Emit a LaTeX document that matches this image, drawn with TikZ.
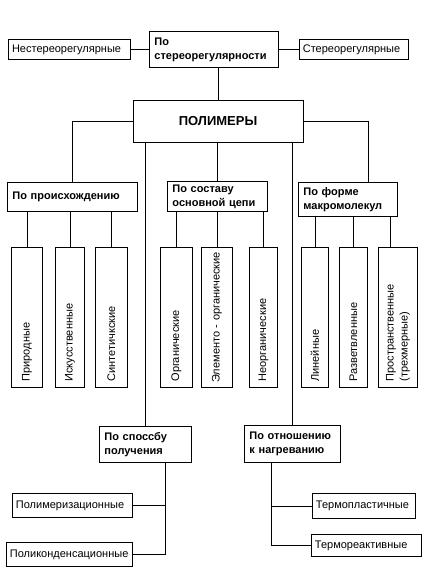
\documentclass[tikz,border=0pt]{standalone}
\usepackage{fontspec}
\setmainfont{Liberation Sans}
\usetikzlibrary{positioning, calc}

\begin{document}
\begin{tikzpicture}
	[
	x = 1pt, y = -1pt,
	every node/.style = {font = \fontsize{11}{14}\selectfont},
	every path/.style = {line width = 0.9pt},
	head/.style = {draw, anchor = north west, align = left, inner xsep = 5pt, font = \fontsize{11}{14}\selectfont\bfseries},
	leaf/.style = {draw, anchor = north west, align = left, inner xsep = 3.5pt},
	vleaf/.style = {draw, rotate = 90, anchor = north west, align = left, minimum width = 140pt, text width = 128pt, inner xsep = 6pt, minimum height = #1}
	]
	\useasboundingbox (0,0) rectangle (433,573);
	
	% top
	\node[head, text width = 119pt, minimum height = 36pt] (ster) at (149,31) {По\\стереорегулярности};
	\node[leaf, anchor = east, text width = 115pt, minimum height = 20pt, left = 18pt of ster] (nster) {Нестереорегулярные};
	\node[leaf, anchor = west, text width = 102pt, minimum height = 20pt, right = 20pt of ster] (sster) {Стереорегулярные};
	\node[draw, minimum width = 170pt, minimum height = 42pt, font = \fontsize{13}{15}\selectfont\bfseries] (poly) at (218,121) {ПОЛИМЕРЫ};
	
	% groups
	\node[head, text width = 120pt, minimum height = 29pt] (orig) at (7,182) {По происхождению};
	\node[head, text width = 90pt, minimum height = 30pt] (comp) at (167,181) {По составу\\основной цепи};
	\node[head, text width = 89pt, minimum height = 34pt] (form) at (298,182) {По форме\\макромолекул};
	\node[head, text width = 82pt, minimum height = 36pt] (prod) at (99,426) {По споссбу\\получения};
	\node[head, text width = 86pt, minimum height = 37pt] (heat) at (244,425) {По отношению\\к нагреванию};
	
	% vertical leaves
	\node[vleaf = 31pt] (nat) at (11,388) {Природные};
	\node[vleaf = 29pt] (art) at (55,388) {Искусственные};
	\node[vleaf = 32pt] (syn) at (95,388) {Синтетичкские};
	\node[vleaf = 32pt] (org) at (160,388) {Органические};
	\node[vleaf = 31pt, inner xsep = 5pt, text width = 130pt] (elem) at (201,388) {\mbox{Элементо - органические}};
	\node[vleaf = 28pt] (inorg) at (249,388) {Неорганические};
	\node[vleaf = 27pt] (lin) at (301,388) {Линейные};
	\node[vleaf = 28pt] (branch) at (339,388) {Разветвленные};
	\node[vleaf = 39pt] (space) at (378,388) {Пространственные\\(трехмерные)};
	
	% bottom leaves
	\node[leaf, text width = 113pt, minimum height = 24pt] (pm) at (12,493) {Полимеризационные};
	\node[leaf, text width = 119pt, minimum height = 24pt] (pc) at (6,542) {Поликонденсационные};
	\node[leaf, text width = 96pt, minimum height = 25pt] (tp) at (312,493) {Термопластичные};
	\node[leaf, text width = 103pt, minimum height = 22pt] (ts) at (311,534) {Термореактивные};
	
	\draw (nster) -- (ster);
	\draw (ster) -- (sster);
	\draw (ster.south -| poly.north) -- (poly.north);
	\draw (poly.west) -| (orig.north);
	\draw (poly.east) -| ($(form.north west)!0.71!(form.north east)$);
	\draw (poly.south -| comp.north) -- (comp.north);
	\draw (poly.south -| prod.north) -- (prod.north);
	\draw (poly.south -| heat.north) -- (heat.north);
	\foreach \g/\c in {orig/nat, orig/art, orig/syn, comp/org, comp/elem, comp/inorg, form/lin, form/branch}
		\draw (\g.south -| \c.east) -- (\c.east);
	\draw ([xshift = -8pt]space.east) -- ([xshift = -8pt]space.east |- form.south);
	\coordinate (pt) at ($(prod.south west)!0.71!(prod.south east)$);
	\draw (pt) |- (pc.east);
	\draw (pm.east) -- (pm.east -| pt);
	\coordinate (ht) at ($(heat.south west)!0.28!(heat.south east)$);
	\draw (ht) |- (ts.west);
	\draw (tp.west) -- (tp.west -| ht);
\end{tikzpicture}
\end{document}
